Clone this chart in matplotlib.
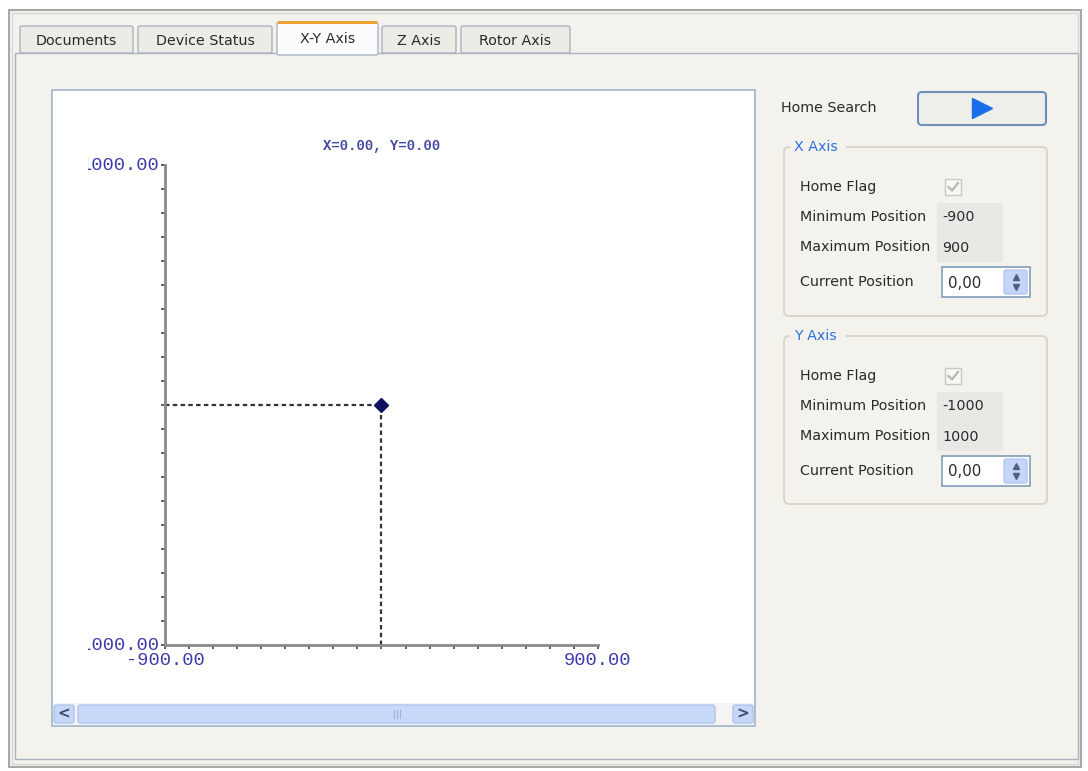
import numpy as np
import matplotlib
matplotlib.use("Agg")
import matplotlib.pyplot as plt
from matplotlib.patches import Rectangle, FancyBboxPatch

# data
tab_names = ["Documents", "Device Status", "X-Y Axis", "Z Axis", "Rotor Axis"]
active_tab = "X-Y Axis"
x_range = [-900, 900]
y_range = [-1000, 1000]
tick_step = 100
pos_x = [0.0]
pos_y = [0.0]
field_names = ["Home Flag", "Minimum Position", "Maximum Position", "Current Position"]
x_axis_fields = ["-900", "900", "0,00"]
y_axis_fields = ["-1000", "1000", "0,00"]

W, H = 1088, 771
PANEL = "#f3f2ec"
GUI_FONT = "DejaVu Sans"
GUI_SIZE = 10.3
TXT = "#2a2a2a"
MONO = "Liberation Mono"

fig = plt.figure(figsize=(W / 100, H / 100), dpi=100)
fig.patch.set_facecolor("white")

# background "window" drawn in pixel coordinates
bg = fig.add_axes([0, 0, 1, 1])
bg.set_xlim(0, W)
bg.set_ylim(H, 0)
bg.axis("off")


def rbox(x, y, w, h, fc, ec, r=3, lw=1, z=1):
    p = FancyBboxPatch((x, y), w, h, boxstyle=f"round,pad=0,rounding_size={r}",
                       fc=fc, ec=ec, lw=lw, zorder=z)
    bg.add_patch(p)
    return p


# outer window frame
bg.add_patch(Rectangle((9, 10), 1072, 757, fc=PANEL, ec="#a8a8a8", lw=1.5, zorder=0))
bg.add_patch(Rectangle((12, 13), 1066, 751, fc="none", ec="#d8d8d8", lw=1, zorder=0))
bg.add_patch(Rectangle((15, 53), 1063, 706, fc=PANEL, ec="#a9b4c0", lw=1, zorder=1))

# tabs
tab_x = [20, 138, 277, 382, 461]
tab_w = [113, 134, 101, 74, 109]
for name, tx, tw in zip(tab_names, tab_x, tab_w):
    if name == active_tab:
        rbox(tx, 22, tw, 33, "#fcfcfe", "#a9b4c0", r=2, z=2)
        bg.add_patch(Rectangle((tx + 1, 21), tw - 2, 3, fc="#f0a030", ec="none", zorder=3))
        bg.text(tx + tw / 2, 39, name, ha="center", va="center", fontsize=GUI_SIZE,
                family=GUI_FONT, color=TXT, zorder=4)
    else:
        rbox(tx, 26, tw, 27, "#ecebe6", "#a9b4c0", r=2, z=2)
        bg.text(tx + tw / 2, 41, name, ha="center", va="center", fontsize=GUI_SIZE,
                family=GUI_FONT, color=TXT, zorder=4)

# chart frame
bg.add_patch(Rectangle((52, 90), 703, 636, fc="white", ec="#9fb4cc", lw=1.2, zorder=2))

# scrollbar
bg.add_patch(Rectangle((53, 703), 701, 22, fc="#f4f4f2", ec="none", zorder=3))
rbox(54, 705, 20, 18, "#c6d6f6", "#b0c4ec", r=2, z=4)
rbox(78, 705, 637, 18, "#c8d9f9", "#aec3ee", r=3, z=4)
rbox(733, 705, 20, 18, "#c6d6f6", "#b0c4ec", r=2, z=4)
bg.text(64, 714, "<", ha="center", va="center", fontsize=11, weight="bold",
        color="#3a4a70", zorder=5)
bg.text(743, 714, ">", ha="center", va="center", fontsize=11, weight="bold",
        color="#3a4a70", zorder=5)
for gx in (394, 397, 400):
    bg.plot([gx, gx], [710, 718], color="#9fb2d8", lw=0.8, zorder=5)

# right panel
bg.text(781, 108, "Home Search", ha="left", va="center", fontsize=GUI_SIZE,
        family=GUI_FONT, color=TXT, zorder=4)
rbox(918, 92, 128, 33, "#eeeeea", "#6d8fb8", r=4, lw=1.5, z=3)
bg.plot([982], [108], marker=">", ms=15, color="#1a6fe8", mec="#1a6fe8", zorder=5)


def group_box(top, bottom, title, values):
    rbox(784, top, 263, bottom - top, "none", "#d3d2c2", r=5, lw=1.2, z=3)
    bg.add_patch(Rectangle((790, top - 8), 56, 16, fc=PANEL, ec="none", zorder=4))
    bg.text(794, top, title, ha="left", va="center", fontsize=GUI_SIZE,
            family=GUI_FONT, color="#2f6fe0", zorder=5)
    rows = [top + 40, top + 70, top + 100, top + 135]
    for name, ry in zip(field_names, rows):
        bg.text(800, ry, name, ha="left", va="center", fontsize=GUI_SIZE,
                family=GUI_FONT, color=TXT, zorder=5)
    # disabled check box
    bg.add_patch(Rectangle((945, rows[0] - 8), 16, 16, fc="#f7f7f3", ec="#c8c8c0",
                           lw=1, zorder=5))
    bg.plot([948.5, 952, 958], [rows[0], rows[0] + 3.5, rows[0] - 4], color="#b8b8b0",
            lw=1.6, zorder=6)
    # read-only values
    bg.add_patch(Rectangle((937, rows[1] - 14), 66, 59, fc="#e8e8e4", ec="none", zorder=4))
    bg.text(942, rows[1], values[0], ha="left", va="center", fontsize=GUI_SIZE,
            family=GUI_FONT, color=TXT, zorder=5)
    bg.text(942, rows[2] + 1, values[1], ha="left", va="center", fontsize=GUI_SIZE,
            family=GUI_FONT, color=TXT, zorder=5)
    # spin box
    bg.add_patch(Rectangle((942, rows[3] - 15), 88, 30, fc="white", ec="#7f9db9",
                           lw=1.2, zorder=5))
    rbox(1004, rows[3] - 12, 23, 24, "#c5d5fa", "#b4c8f0", r=2, z=6)
    bg.plot([1015.5], [rows[3] - 5], marker="^", ms=5, color="#4d6185", zorder=7)
    bg.plot([1015.5], [rows[3] + 5], marker="v", ms=5, color="#4d6185", zorder=7)
    bg.text(948, rows[3] + 1, values[2], ha="left", va="center", fontsize=GUI_SIZE + 0.5,
            family=GUI_FONT, color=TXT, zorder=6)


group_box(147, 316, "X Axis", x_axis_fields)
group_box(336, 504, "Y Axis", y_axis_fields)

# the x-y position plot
L, R, T, B = 165, 598, 165, 645
ax = fig.add_axes([L / W, 1 - B / H, (R - L) / W, (B - T) / H])
ax.set_facecolor("none")
ax.set_zorder(5)
ax.set_xlim(x_range)
ax.set_ylim(y_range)
for s in ("top", "right"):
    ax.spines[s].set_visible(False)
for s in ("left", "bottom"):
    ax.spines[s].set_color("#8a8a8a")
    ax.spines[s].set_linewidth(2)
ax.set_xticks(np.arange(x_range[0], x_range[1] + 1, tick_step))
ax.set_yticks(np.arange(y_range[0], y_range[1] + 1, tick_step))
ax.tick_params(direction="out", length=3, width=1.2, color="#444444",
               labelleft=False, labelbottom=False)

ax.plot([x_range[0], pos_x[0]], [pos_y[0], pos_y[0]], ls=(0, (2, 1.5)), color="#333333",
        lw=1.6, clip_on=False)
ax.plot([pos_x[0], pos_x[0]], [y_range[0], pos_y[0]], ls=(0, (2, 1.5)), color="#333333",
        lw=1.6, clip_on=False)
ax.plot(pos_x, pos_y, marker="D", ms=7, color="#101060", clip_on=False, zorder=6)

lab_color = "#3c3ca8"
clip = Rectangle((88, 90), 667, 610, transform=bg.transData)
for yv in (y_range[1], y_range[0]):
    t = ax.annotate(f"{yv:.2f}", xy=(x_range[0], yv), xytext=(-4, 0),
                    textcoords="offset points", ha="right", va="center",
                    fontsize=13.5, family=MONO, color=lab_color, annotation_clip=False)
    t.set_clip_path(clip)
for xv in (x_range[0], x_range[1]):
    ax.annotate(f"{xv:.2f}", xy=(xv, y_range[0]), xytext=(0, -11),
                textcoords="offset points", ha="center", va="center",
                fontsize=13.5, family=MONO, color=lab_color, annotation_clip=False)

ax.set_title(f"X={pos_x[0]:.2f}, Y={pos_y[0]:.2f}", fontsize=10, family=MONO,
             weight="bold", color="#4448a0", pad=11)

fig.savefig("out.png", dpi=100)
